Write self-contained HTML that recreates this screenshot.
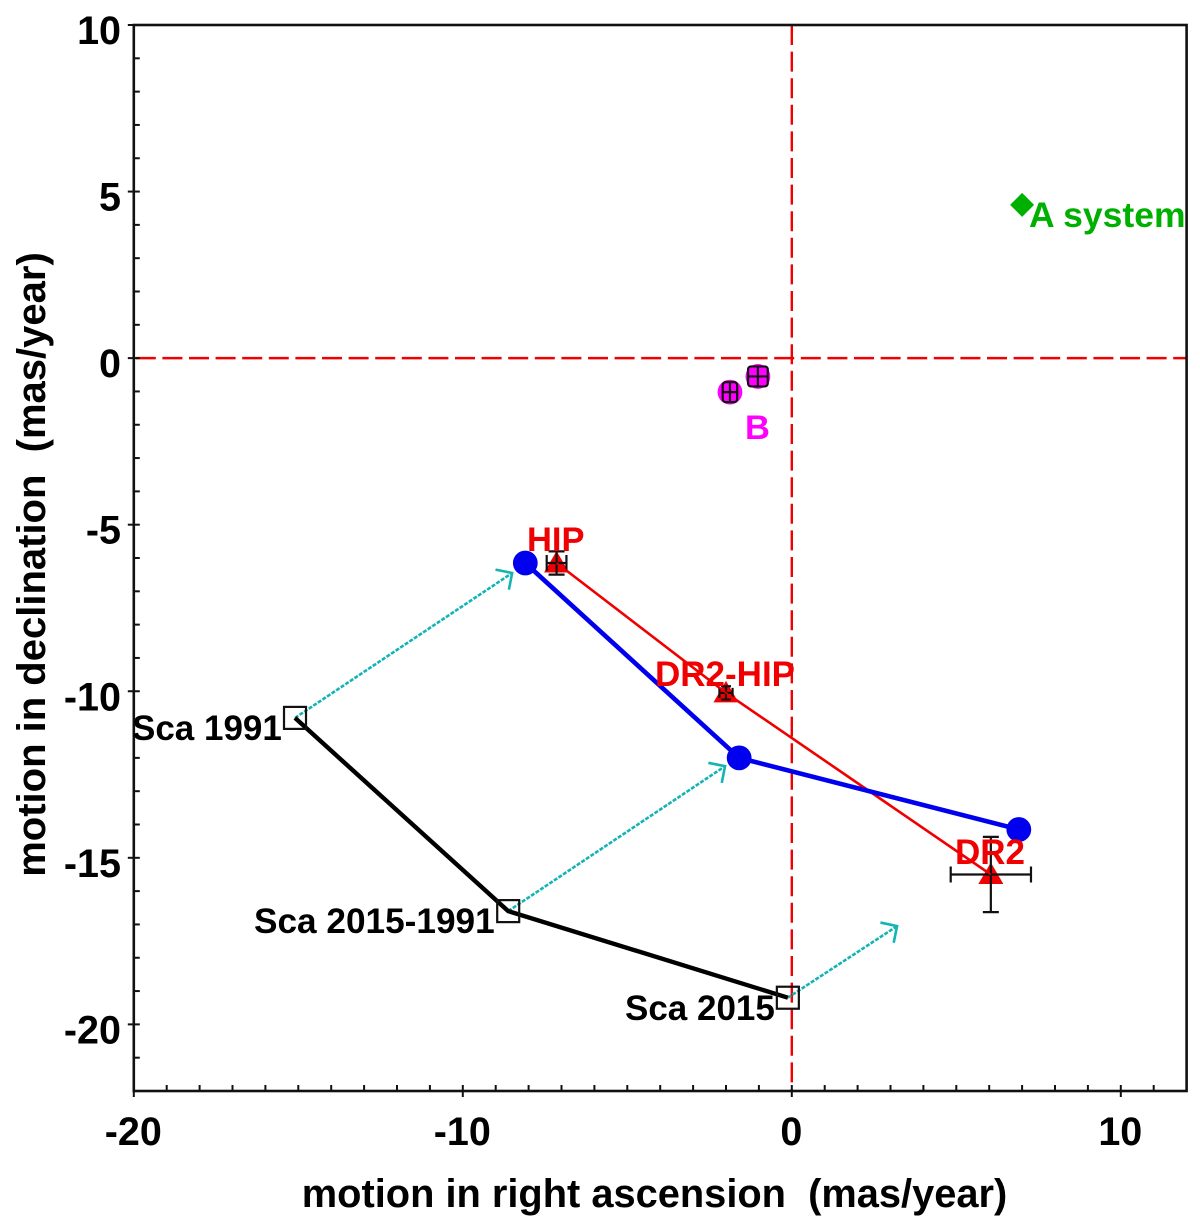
<!DOCTYPE html>
<html>
<head>
<meta charset="utf-8">
<title>Proper motion diagram</title>
<style>
html,body{margin:0;padding:0;background:#fff;width:1200px;height:1220px;overflow:hidden}
svg{display:block}
text{font-family:"Liberation Sans",Arial,sans-serif;font-weight:bold;white-space:pre}
</style>
</head>
<body>
<svg id="chart" xmlns="http://www.w3.org/2000/svg" width="1200" height="1220" viewBox="0 0 1200 1220">
<rect x="0" y="0" width="1200" height="1220" fill="#ffffff"/>
<text x="654.5" y="1207" font-size="39.8" text-anchor="middle" fill="#000">motion in right ascension  (mas/year)</text>
<text x="0" y="0" transform="translate(45,564.5) rotate(-90)" font-size="40" text-anchor="middle" fill="#000">motion in declination  (mas/year)</text>
</svg>
<script>
// Axis domains
const xDomain = [-20, 12];
const yDomain = [-22, 10];
const xMajorTicks = [-20, -10, 0, 10];
const yMajorTicks = [10, 5, 0, -5, -10, -15, -20];

// Scattered system (black squares)
const scaNames = ['Sca 1991', 'Sca 2015-1991', 'Sca 2015'];
const scaX = [-15.1, -8.62, -0.12];
const scaY = [-10.8, -16.6, -19.2];

// Arrow tips from each Sca point
const arrowX = [-8.5, -2.03, 3.2];
const arrowY = [-6.45, -12.25, -17.05];

// Blue series
const blueX = [-8.1, -1.6, 6.9];
const blueY = [-6.15, -12.0, -14.15];

// Red series with error bars
const redNames = ['HIP', 'DR2-HIP', 'DR2'];
const redX = [-7.15, -2.0, 6.05];
const redY = [-6.15, -10.05, -15.5];
const redErrX = [0.3, 0.2, 1.22];
const redErrY = [0.35, 0.2, 1.13];

// B component points
const bX = [-1.03, -1.88];
const bY = [-0.55, -1.02];
const bErrX = [0.3, 0.22];
const bErrY = [0.3, 0.3];

// A system point
const aX = [7.0];
const aY = [4.6];

const NS = 'http://www.w3.org/2000/svg';
const svg = document.getElementById('chart');
const plot = {left: 133.8, right: 1186.6, top: 25, bottom: 1091};

function sx(v) { return plot.left + (v - xDomain[0]) / (xDomain[1] - xDomain[0]) * (plot.right - plot.left); }
function sy(v) { return plot.bottom - (v - yDomain[0]) / (yDomain[1] - yDomain[0]) * (plot.bottom - plot.top); }

function make(tag, attrs) {
  const el = document.createElementNS(NS, tag);
  for (const k in attrs) el.setAttribute(k, attrs[k]);
  svg.appendChild(el);
  return el;
}
function seg(x1, y1, x2, y2, stroke, width, dash) {
  const el = make('line', {x1: x1, y1: y1, x2: x2, y2: y2, stroke: stroke, 'stroke-width': width});
  if (dash) el.setAttribute('stroke-dasharray', dash);
  return el;
}
function label(str, x, y, size, fill, anchor) {
  const el = make('text', {x: x, y: y, 'font-size': size, fill: fill, 'text-anchor': anchor || 'start'});
  el.textContent = str;
  return el;
}
function polyline(xs, ys, stroke, width) {
  const pts = xs.map(function (v, i) { return sx(v).toFixed(1) + ',' + sy(ys[i]).toFixed(1); }).join(' ');
  return make('polyline', {points: pts, fill: 'none', stroke: stroke, 'stroke-width': width, 'stroke-linejoin': 'round'});
}

// Reference lines
let el = seg(sx(0), plot.top, sx(0), plot.bottom, '#f00000', 2.4, '20 6.6');


el = seg(plot.left + 2, sy(0), plot.right, sy(0), '#f00000', 2.4, '20 6.6');



// Frame
el = make('rect', {x: plot.left, y: plot.top, width: plot.right - plot.left, height: plot.bottom - plot.top, fill: 'none', stroke: '#111', 'stroke-width': 2.6});



// X ticks
for (let v = xDomain[0]; v <= xDomain[1]; v++) {
  const major = xMajorTicks.indexOf(v) >= 0;
  if (v === xDomain[1]) continue;
  const t = seg(sx(v), plot.bottom - 6, sx(v), plot.bottom + (major ? 6 : 0), '#111', 2);
  
  
}
// Y ticks
for (let v = yDomain[0]; v <= yDomain[1]; v++) {
  const major = yMajorTicks.indexOf(v) >= 0;
  if (v === yDomain[0]) continue;
  const t = seg(plot.left - (major ? 6 : 0), sy(v), plot.left + (v === yDomain[1] ? 0 : 6), sy(v), '#111', 2);
  
  
}
// Tick labels
xMajorTicks.forEach(function (v) {
  const t = label(String(v), sx(v) - 0.5, 1145, 39.5, '#000', 'middle');
  
  
});
yMajorTicks.forEach(function (v) {
  const t = label(String(v), 121, sy(v) + 19, 39.5, '#000', 'end');
  
  
});

// Motion arrows
scaX.forEach(function (v, i) {
  const x0 = sx(v), y0 = sy(scaY[i]), x1 = sx(arrowX[i]), y1 = sy(arrowY[i]);
  const a = Math.atan2(y0 - y1, x0 - x1);
  const len = 17;
  const d = 'M' + x0 + ' ' + y0 + 'L' + x1 + ' ' + y1;
  const shaft = make('path', {d: d, fill: 'none', stroke: '#14b4b4', 'stroke-width': 2.6, 'stroke-dasharray': '4 1.5'});
  
  
  const hd = 'M' + (x1 + len * Math.cos(a - 0.79)) + ' ' + (y1 + len * Math.sin(a - 0.79)) + 'L' + x1 + ' ' + y1 + 'L' + (x1 + len * Math.cos(a + 0.79)) + ' ' + (y1 + len * Math.sin(a + 0.79));
  const head = make('path', {d: hd, fill: 'none', stroke: '#14b4b4', 'stroke-width': 2.6});
  
  
});

// Black series
el = polyline(scaX, scaY, '#000', 4.4);


scaX.forEach(function (v, i) {
  const s = make('rect', {x: sx(v) - 11, y: sy(scaY[i]) - 11, width: 22, height: 22, fill: 'none', stroke: '#111', 'stroke-width': 2.2});
  
  
});

// Red series
el = polyline(redX, redY, '#f00000', 2.6);


redX.forEach(function (v, i) {
  const cx = sx(v), cy = sy(redY[i]);
  const p = make('polygon', {points: cx + ',' + (cy - 12) + ' ' + (cx + 12.5) + ',' + (cy + 9.5) + ' ' + (cx - 12.5) + ',' + (cy + 9.5), fill: '#f00000'});
  
  
});
redX.forEach(function (v, i) {
  const cx = sx(v), cy = sy(redY[i]);
  const ex = redErrX[i] * 32.9, ey = redErrY[i] * 33.3;
  const cap = i === 1 ? 5 : 8;
  const d = 'M' + (cx - ex) + ' ' + cy + 'H' + (cx + ex) +
            'M' + (cx - ex) + ' ' + (cy - cap) + 'V' + (cy + cap) +
            'M' + (cx + ex) + ' ' + (cy - cap) + 'V' + (cy + cap) +
            'M' + cx + ' ' + (cy - ey) + 'V' + (cy + ey) +
            'M' + (cx - cap) + ' ' + (cy - ey) + 'H' + (cx + cap) +
            'M' + (cx - cap) + ' ' + (cy + ey) + 'H' + (cx + cap);
  const e = make('path', {d: d, fill: 'none', stroke: '#111', 'stroke-width': 2.2});
  
  
});
// Red line stays visible over the triangle markers and error bars
el = polyline(redX, redY, '#f00000', 1.5);



// Blue series
el = polyline(blueX, blueY, '#0000ee', 4.6);


blueX.forEach(function (v, i) {
  const c = make('circle', {cx: sx(v), cy: sy(blueY[i]), r: 12.4, fill: '#0000ee'});
  
  
});

// B component
bX.forEach(function (v, i) {
  const cx = sx(v), cy = sy(bY[i]);
  const c = make('circle', {cx: cx, cy: cy, r: 12.4, fill: '#ff00ff'});
  
  
  const ex = bErrX[i] * 32.9, ey = bErrY[i] * 33.3;
  const box = make('rect', {x: cx - ex, y: cy - ey, width: 2 * ex, height: 2 * ey, rx: 3, ry: 3, fill: 'none', stroke: '#111', 'stroke-width': 2.2});
  
  
  const d = 'M' + (cx - ex) + ' ' + cy + 'H' + (cx + ex) + 'M' + cx + ' ' + (cy - ey) + 'V' + (cy + ey);
  const e = make('path', {d: d, fill: 'none', stroke: '#111', 'stroke-width': 2.2});
  
  
});

// A system
aX.forEach(function (v, i) {
  const cx = sx(v), cy = sy(aY[i]);
  const p = make('polygon', {points: cx + ',' + (cy - 12) + ' ' + (cx + 12) + ',' + cy + ' ' + cx + ',' + (cy + 12) + ' ' + (cx - 12) + ',' + cy, fill: '#00b000'});
  
  
});

// Annotation labels
el = label(redNames[0], 527, 551, 34.5, '#f00000');


el = label(redNames[1], 655, 686, 35, '#f00000');


el = label(redNames[2], 955, 864, 35, '#f00000');


el = label('B', 745, 439, 34.5, '#ff00ff');


el = label('A system', 1029, 227, 35.5, '#00b000');


el = label(scaNames[0], 132, 740, 35, '#000');


el = label(scaNames[1], 254, 933, 35.2, '#000');


el = label(scaNames[2], 625, 1020, 35, '#000');


</script>
</body>
</html>
